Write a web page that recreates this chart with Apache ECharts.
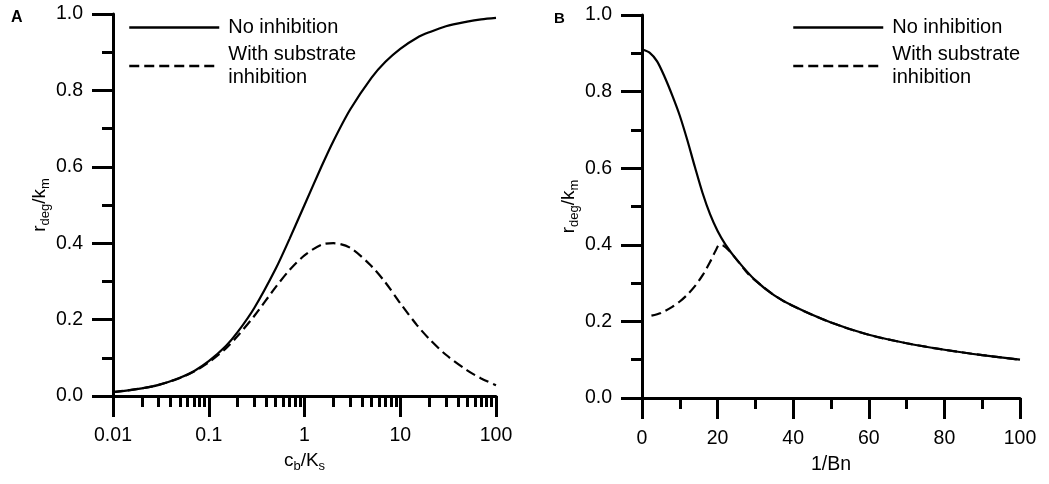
<!DOCTYPE html>
<html>
<head>
<meta charset="utf-8">
<script src="https://cdn.jsdelivr.net/npm/echarts@6/dist/echarts.min.js"></script>
<style>
html,body{margin:0;padding:0;background:#fff;}
#c{width:1049px;height:484px;}
</style>
</head>
<body>
<div id="c"></div>
<script>
// ---- Data ----
const seriesNames = ['No inhibition', 'With substrate inhibition'];
const panelLabels = ['A', 'B'];

// Panel A (log x axis: c_b/K_s)
const xA = [0.01,0.02,0.03,0.05,0.07,0.1,0.15,0.2,0.3,0.5,0.7,1,1.5,2,3,5,7,10,15,20,30,50,70,100];
const noInhA = [0.010,0.020,0.029,0.048,0.065,0.091,0.130,0.167,0.231,0.333,0.412,0.500,0.600,0.667,0.750,0.833,0.875,0.909,0.938,0.952,0.968,0.980,0.986,0.990];
const subInhA = [0.010,0.020,0.029,0.047,0.064,0.088,0.124,0.157,0.210,0.285,0.330,0.368,0.396,0.400,0.388,0.340,0.297,0.243,0.185,0.150,0.108,0.067,0.046,0.028];
const majorTicksA = [0.01,0.1,1,10,100];
const minorTicksA = [0.02,0.03,0.04,0.05,0.06,0.07,0.08,0.09,0.2,0.3,0.4,0.5,0.6,0.7,0.8,0.9,2,3,4,5,6,7,8,9,20,30,40,50,60,70,80,90];

// Panel B (linear x axis: 1/Bn)
const xB = [0,2,4,6,8,10,12,14,16,18,20,22,25,30,35,40,50,60,70,80,90,100];
const noInhB = [0.910,0.902,0.879,0.838,0.790,0.737,0.673,0.603,0.536,0.480,0.436,0.402,0.362,0.307,0.268,0.240,0.197,0.165,0.143,0.126,0.112,0.100];
const xB2 = [2.5,5,8,10,12,14,16,18,19.5,20.5,21.5,23,25,28,30,35,40,50,60,70,80,90,100];
const subInhB = [0.215,0.222,0.238,0.252,0.270,0.292,0.320,0.355,0.385,0.400,0.398,0.385,0.362,0.325,0.307,0.268,0.240,0.197,0.165,0.143,0.126,0.112,0.100];

// ---- Chart ----
const FONT = 'Liberation Sans, Arial, Helvetica, sans-serif';
const black = '#000';
const pair = (xs, ys) => xs.map((x, i) => [x, ys[i]]);

const nameRich = {
  m: {fontSize: 19, lineHeight: 22, verticalAlign: 'top', color: black, fontFamily: FONT},
  s: {fontSize: 13, lineHeight: 13, padding: [9, 0, 0, 0], verticalAlign: 'top', color: black, fontFamily: FONT}
};

function yAxisCfg(grid) {
  return {
    type: 'value', gridIndex: grid, min: 0, max: 1, interval: 0.2,
    name: '{m|r}{s|deg}{m|/k}{s|m}', nameLocation: 'middle', nameGap: 61,
    nameTextStyle: {rich: nameRich},
    axisLine: {show: true, onZero: false, lineStyle: {color: black, width: 3}},
    axisTick: {show: true, length: 21, lineStyle: {color: black, width: 3}},
    minorTick: {show: true, splitNumber: 2, length: 11, lineStyle: {color: black, width: 3}},
    splitLine: {show: false}, minorSplitLine: {show: false},
    axisLabel: {margin: 30, fontSize: 19.5, color: black, fontFamily: FONT,
      formatter: v => v.toFixed(1)}
  };
}

function legendCfg(left) {
  return {
    left: left, top: 11, orient: 'vertical', itemWidth: 90, itemHeight: 14, itemGap: 4,
    data: seriesNames,
    itemStyle: {opacity: 0, borderWidth: 0},
    lineStyle: {width: 2.5},
    textStyle: {fontSize: 20, lineHeight: 23, color: black, fontFamily: FONT, padding: [0, 0, 0, 4]},
    formatter: n => n === seriesNames[1] ? 'With substrate\ninhibition' : n
  };
}

const option = {
  backgroundColor: '#fff',
  animation: false,
  textStyle: {fontFamily: FONT},
  title: [
    {text: panelLabels[0], left: 11, top: 10, padding: 0,
      textStyle: {fontSize: 16, fontWeight: 'bold', color: black, fontFamily: FONT}},
    {text: panelLabels[1], left: 554, top: 11, padding: 0,
      textStyle: {fontSize: 15, fontWeight: 'bold', color: black, fontFamily: FONT}}
  ],
  grid: [
    {left: 113, top: 14, width: 383, height: 382, containLabel: false},
    {left: 642, top: 15, width: 378, height: 383, containLabel: false}
  ],
  legend: [legendCfg(123), legendCfg(787)],
  xAxis: [
    {type: 'log', logBase: 10, gridIndex: 0, min: 0.01, max: 100,
      name: '{m|c}{s|b}{m|/K}{s|s}', nameLocation: 'middle', nameGap: 47,
      nameTextStyle: {rich: nameRich},
      axisLine: {show: true, onZero: false, lineStyle: {color: black, width: 3}},
      axisTick: {show: true, length: 21, customValues: majorTicksA, lineStyle: {color: black, width: 3}},
      axisLabel: {margin: 30, fontSize: 19.5, color: black, fontFamily: FONT,
        customValues: majorTicksA, formatter: v => String(+v.toPrecision(6))},
      splitLine: {show: false}},
    {type: 'log', logBase: 10, gridIndex: 0, min: 0.01, max: 100, position: 'bottom',
      axisLine: {show: false, onZero: false},
      axisTick: {show: true, length: 11, customValues: minorTicksA, lineStyle: {color: black, width: 3}},
      axisLabel: {show: false},
      splitLine: {show: false}},
    {type: 'value', gridIndex: 1, min: 0, max: 100, interval: 20,
      name: '1/Bn', nameLocation: 'middle', nameGap: 47,
      nameTextStyle: {fontSize: 19.5, color: black, fontFamily: FONT, lineHeight: 22, verticalAlign: 'top'},
      axisLine: {show: true, onZero: false, lineStyle: {color: black, width: 3}},
      axisTick: {show: true, length: 21, lineStyle: {color: black, width: 3}},
      minorTick: {show: true, splitNumber: 2, length: 11, lineStyle: {color: black, width: 3}},
      splitLine: {show: false}, minorSplitLine: {show: false},
      axisLabel: {margin: 31, fontSize: 19.5, color: black, fontFamily: FONT}}
  ],
  yAxis: [yAxisCfg(0), yAxisCfg(1)],
  series: [
    {name: seriesNames[0], type: 'line', xAxisIndex: 0, yAxisIndex: 0, data: pair(xA, noInhA),
      symbol: 'none', smooth: 0.3, lineStyle: {color: black, width: 2.2}, itemStyle: {color: black}},
    {name: seriesNames[1], type: 'line', xAxisIndex: 0, yAxisIndex: 0, data: pair(xA, subInhA),
      symbol: 'none', smooth: 0.3, lineStyle: {color: black, width: 2.2, type: [10, 5]}, itemStyle: {color: black}},
    {name: seriesNames[0], type: 'line', xAxisIndex: 2, yAxisIndex: 1, data: pair(xB, noInhB),
      symbol: 'none', smooth: 0.3, lineStyle: {color: black, width: 2.2}, itemStyle: {color: black}},
    {name: seriesNames[1], type: 'line', xAxisIndex: 2, yAxisIndex: 1, data: pair(xB2, subInhB),
      symbol: 'none', smooth: 0.3, lineStyle: {color: black, width: 2.2, type: [10, 5]}, itemStyle: {color: black}}
  ]
};

const chart = echarts.init(document.getElementById('c'), null, {renderer: 'canvas'});
chart.setOption(option);
</script>
</body>
</html>
